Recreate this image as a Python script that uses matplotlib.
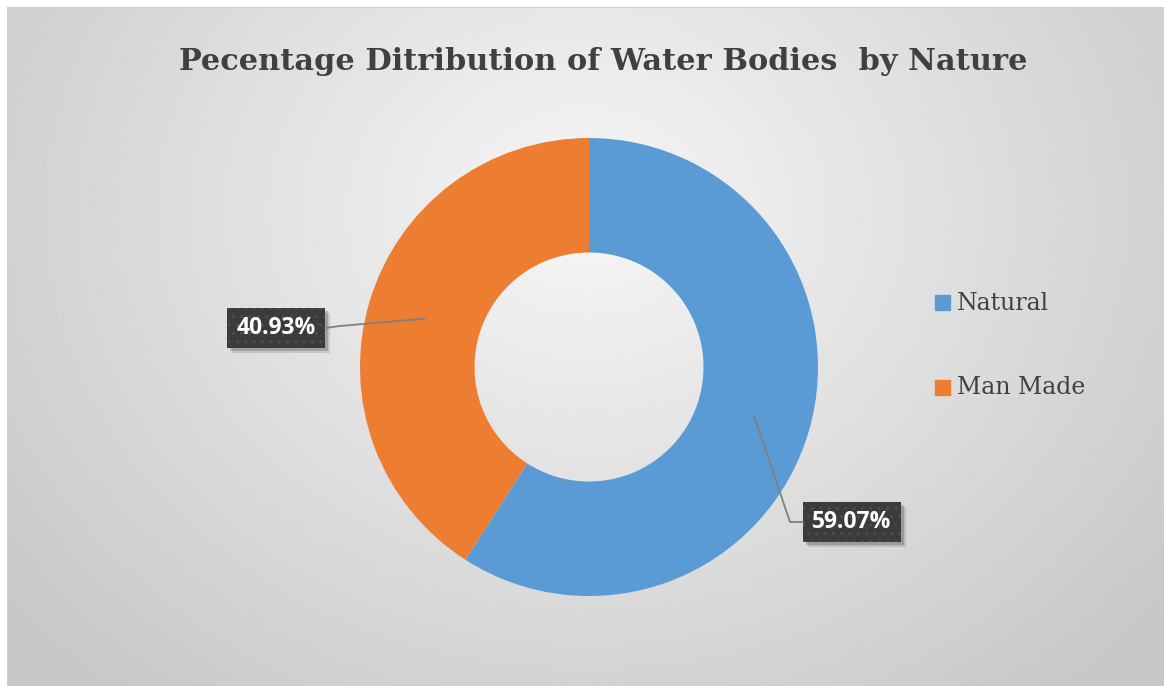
import matplotlib.pyplot as plt
import numpy as np

labels = ['Natural', 'Man Made']
shares = [59.07, 40.93]
colors = ['#5B9BD5', '#ED7D31']
title = 'Pecentage Ditribution of Water Bodies  by Nature'

W, H = 1164, 686
fig = plt.figure(figsize=(W / 100, H / 100), dpi=100)
fig.patch.set_facecolor('white')

# radial gray background inside the chart frame
bg = fig.add_axes([7 / W, 0, 1 - 7 / W, 1 - 7 / H])
yy, xx = np.mgrid[0:300, 0:500]
d = np.hypot((xx - 250) / 300.0, (yy - 90) / 260.0)
shade = np.clip(0.965 - 0.17 * d, 0.78, 0.97)
bg.imshow(shade, cmap='gray', vmin=0, vmax=1, aspect='auto',
          extent=[0, 1, 0, 1], origin='upper', interpolation='bilinear')
bg.set_xticks([])
bg.set_yticks([])
for s in bg.spines.values():
    s.set_color('#d0d0d0')

# pixel-coordinate axes for the donut
ax = fig.add_axes([0, 0, 1, 1])
ax.set_xlim(0, W)
ax.set_ylim(0, H)
ax.set_axis_off()
ax.patch.set_alpha(0)

cx, cy, R = 589, H - 367, 229
wedges, _ = ax.pie(shares, colors=colors, startangle=90, counterclock=False,
                   center=(cx, cy), radius=R,
                   wedgeprops=dict(width=R * 0.5, edgecolor='none'))
ax.set_xlim(0, W)
ax.set_ylim(0, H)
ax.set_aspect('auto')

# data labels with leader lines
box_pos = [(852, H - 522), (276, H - 328)]
bw, bh = 98, 40
for w, val, (tx, ty) in zip(wedges, shares, box_pos):
    ang = np.deg2rad((w.theta1 + w.theta2) / 2)
    rm = R * 0.75
    px, py = cx + rm * np.cos(ang), cy + rm * np.sin(ang)
    if tx > cx:
        ax.plot([px, 790, tx - bw / 2], [py, ty, ty], color='#7f7f7f', lw=1.3)
    else:
        ax.plot([px, 340, tx + bw / 2], [py, ty + 2, ty], color='#7f7f7f', lw=1.3)
    for k, a in [(5, 0.12), (3, 0.18)]:
        ax.add_patch(plt.Rectangle((tx - bw / 2 + k, ty - bh / 2 - k), bw, bh,
                                   fc='black', ec='none', alpha=a))
    ax.add_patch(plt.Rectangle((tx - bw / 2, ty - bh / 2), bw, bh,
                               fc='#3b3b3b', ec='#4d4d4d', hatch='..', lw=0))
    ax.text(tx, ty, f'{val:.2f}%', ha='center', va='center',
            fontsize=16.5, fontweight='bold', family='Open Sans', color='white')

# legend
leg_y = [H - 303, H - 388]
for lab, col, ly in zip(labels, colors, leg_y):
    ax.add_patch(plt.Rectangle((935, ly - 7), 15, 15, color=col))
    ax.text(957, ly, lab, ha='left', va='center', fontsize=17,
            family='DejaVu Serif', color='#404040')

fig.text(603 / W, 1 - 62 / H, title, ha='center', va='center', fontsize=21.9,
         fontweight='bold', family='DejaVu Serif', color='#404040')

fig.savefig('out.png', dpi=100, facecolor='white')
